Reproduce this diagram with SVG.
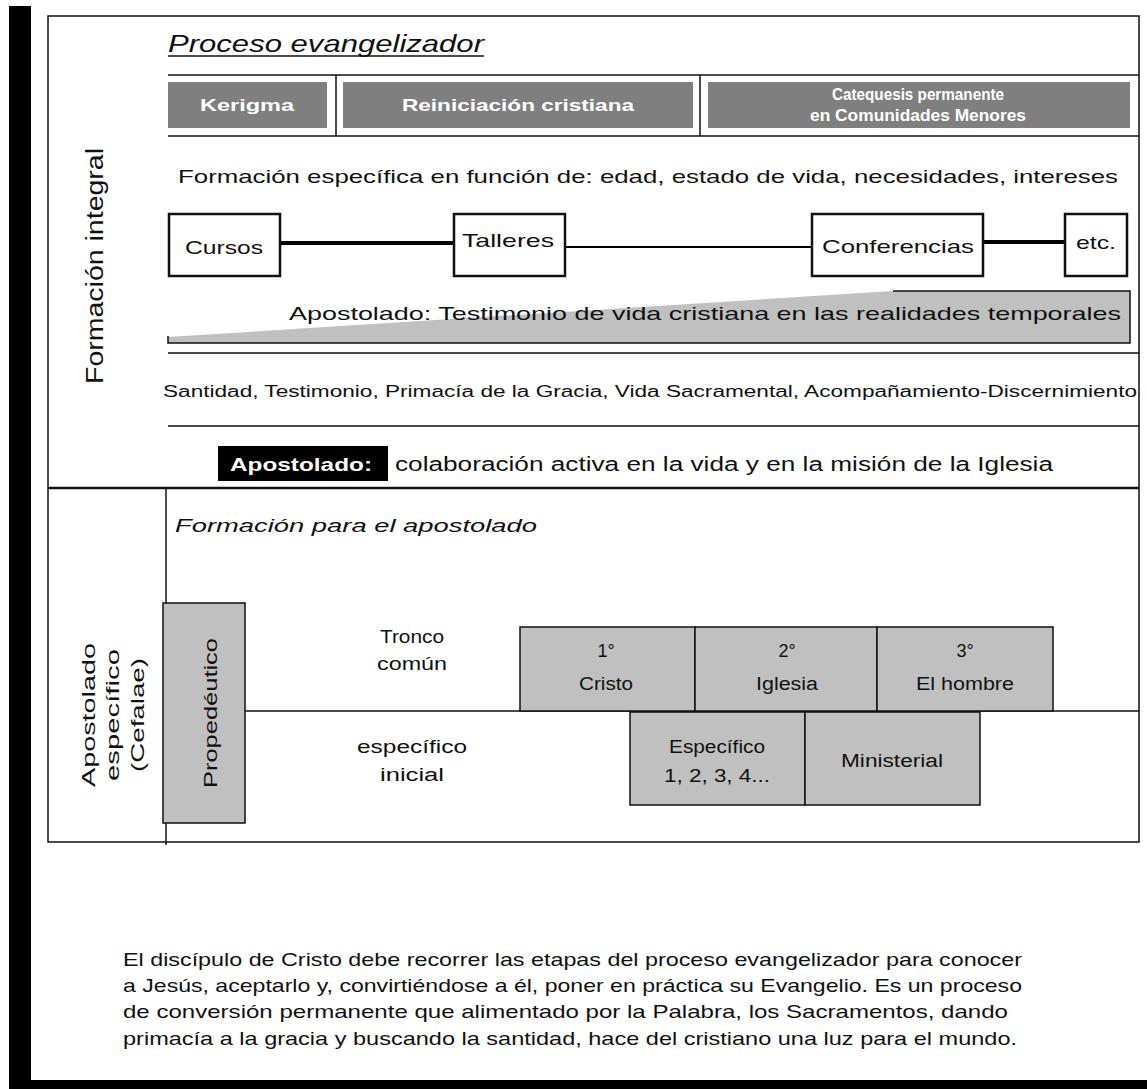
<svg xmlns="http://www.w3.org/2000/svg" width="1147" height="1089" viewBox="0 0 1147 1089">
<style>
text{font-family:"Liberation Sans",Arial,sans-serif;fill:#111}
.ln{stroke:#111;stroke-width:1.5;fill:none}
.hdr{fill:#7f7f7f}
.ht{fill:#fff;font-weight:bold;font-size:17px;text-anchor:middle}
.bx{fill:#fff;stroke:#111;stroke-width:2.5}
.gb{fill:#c0c0c0;stroke:#111;stroke-width:1.5}
.bt{font-size:18px;text-anchor:middle}
.c{text-anchor:middle}
</style>
<rect width="1147" height="1089" fill="#fff"/>
<rect x="9" y="6" width="22" height="1083" fill="#000"/>
<rect x="9" y="1080" width="1138" height="9" fill="#000"/>

<g id="frame">
<rect class="ln" x="48" y="16" width="1091" height="826"/>
<line class="ln" x1="168" y1="75" x2="1139" y2="75"/>
<line class="ln" x1="168" y1="136" x2="1139" y2="136"/>
<line class="ln" x1="336" y1="75" x2="336" y2="136"/>
<line class="ln" x1="700" y1="75" x2="700" y2="136"/>
<line class="ln" x1="168" y1="353" x2="1139" y2="353"/>
<line class="ln" x1="168" y1="426" x2="1139" y2="426"/>
<line x1="48" y1="488" x2="1139" y2="488" stroke="#111" stroke-width="2.5"/>
<line class="ln" x1="166" y1="488" x2="166" y2="845"/>
<line class="ln" x1="245" y1="711" x2="1139" y2="711"/>
</g>

<g id="left-labels">
<text transform="translate(103,266) rotate(-90)" font-size="23" class="c" fill="#222" textLength="236" lengthAdjust="spacingAndGlyphs">Formación integral</text>
<text transform="translate(95,715) rotate(-90)" font-size="18" class="c" textLength="144" lengthAdjust="spacingAndGlyphs">Apostolado</text>
<text transform="translate(119,715) rotate(-90)" font-size="18" class="c" textLength="132" lengthAdjust="spacingAndGlyphs">específico</text>
<text transform="translate(144,715) rotate(-90)" font-size="18" class="c" textLength="114" lengthAdjust="spacingAndGlyphs">(Cefalae)</text>
</g>

<g id="title">
<text x="168" y="52" font-size="24" font-style="italic" textLength="316" lengthAdjust="spacingAndGlyphs">Proceso evangelizador</text>
<line x1="168" y1="56" x2="484" y2="56" stroke="#111" stroke-width="1.5"/>
</g>

<g id="kerigma"><rect class="hdr" x="168" y="82" width="159" height="46"/><text class="ht" x="247" y="111" textLength="94" lengthAdjust="spacingAndGlyphs">Kerigma</text></g>
<g id="reiniciacion"><rect class="hdr" x="343" y="82" width="350" height="46"/><text class="ht" x="518" y="111" textLength="232" lengthAdjust="spacingAndGlyphs">Reiniciación cristiana</text></g>
<g id="catequesis"><rect class="hdr" x="708" y="82" width="422" height="46"/>
<text class="ht" x="918" y="100" font-size="14" textLength="172" lengthAdjust="spacingAndGlyphs">Catequesis permanente</text>
<text class="ht" x="918" y="121" font-size="14" textLength="216" lengthAdjust="spacingAndGlyphs">en Comunidades Menores</text></g>

<g id="especifica"><text x="178" y="183" font-size="19" textLength="940" lengthAdjust="spacingAndGlyphs">Formación específica en función de: edad, estado de vida, necesidades, intereses</text></g>

<g id="connectors">
<line x1="280" y1="243" x2="454" y2="243" stroke="#000" stroke-width="4"/>
<line x1="565" y1="247" x2="812" y2="247" stroke="#000" stroke-width="2"/>
<line x1="983" y1="242" x2="1065" y2="242" stroke="#000" stroke-width="4"/>
</g>

<g id="cursos"><rect class="bx" x="169" y="214" width="111" height="62"/><text x="224" y="254" class="c" font-size="19" textLength="78" lengthAdjust="spacingAndGlyphs">Cursos</text></g>
<g id="talleres"><rect class="bx" x="454" y="214" width="111" height="62"/><text x="508" y="247" class="c" font-size="19" textLength="92" lengthAdjust="spacingAndGlyphs">Talleres</text></g>
<g id="conferencias"><rect class="bx" x="812" y="214" width="171" height="62"/><text x="898" y="253" class="c" font-size="19" textLength="152" lengthAdjust="spacingAndGlyphs">Conferencias</text></g>
<g id="etc"><rect class="bx" x="1065" y="214" width="62" height="62"/><text x="1096" y="249" class="c" font-size="19" textLength="40" lengthAdjust="spacingAndGlyphs">etc.</text></g>

<g id="testimonio">
<polygon points="168,337 893,291 1130,291 1130,343 168,343" fill="#c0c0c0"/>
<polyline points="893,291 1130,291 1130,343 168,343 168,336" fill="none" stroke="#111" stroke-width="1.5"/>
<text x="289" y="320" font-size="19" textLength="832" lengthAdjust="spacingAndGlyphs">Apostolado: Testimonio de vida cristiana en las realidades temporales</text>
</g>

<g id="valores"><text x="163" y="397" font-size="16" textLength="974" lengthAdjust="spacingAndGlyphs">Santidad, Testimonio, Primacía de la Gracia, Vida Sacramental, Acompañamiento-Discernimiento</text></g>

<g id="apostolado">
<rect x="218" y="446" width="170" height="35" fill="#000"/>
<text x="230" y="471" font-size="19" font-weight="bold" style="fill:#fff" textLength="142" lengthAdjust="spacingAndGlyphs">Apostolado:</text>
<text x="395" y="471" font-size="20" textLength="658" lengthAdjust="spacingAndGlyphs">colaboración activa en la vida y en la misión de la Iglesia</text>
</g>

<g id="formacion-apostolado"><text x="175" y="532" font-size="19" font-style="italic" textLength="362" lengthAdjust="spacingAndGlyphs">Formación para el apostolado</text></g>

<g id="propedeutico"><rect class="gb" x="163" y="603" width="82" height="220"/>
<text transform="translate(217,713) rotate(-90)" font-size="19" class="c" textLength="150" lengthAdjust="spacingAndGlyphs">Propedéutico</text></g>

<g id="tronco"><text class="bt" x="412" y="643" textLength="64" lengthAdjust="spacingAndGlyphs">Tronco</text><text class="bt" x="412" y="670" textLength="70" lengthAdjust="spacingAndGlyphs">común</text></g>
<g id="especifico-inicial"><text class="bt" x="412" y="753" textLength="110" lengthAdjust="spacingAndGlyphs">específico</text><text class="bt" x="412" y="781" textLength="64" lengthAdjust="spacingAndGlyphs">inicial</text></g>

<g id="cristo"><rect class="gb" x="520" y="627" width="175" height="84"/><text class="bt" x="606" y="657">1°</text><text class="bt" x="606" y="690" textLength="54" lengthAdjust="spacingAndGlyphs">Cristo</text></g>
<g id="iglesia"><rect class="gb" x="695" y="627" width="182" height="84"/><text class="bt" x="787" y="657">2°</text><text class="bt" x="787" y="690" textLength="62" lengthAdjust="spacingAndGlyphs">Iglesia</text></g>
<g id="hombre"><rect class="gb" x="877" y="627" width="176" height="84"/><text class="bt" x="965" y="657">3°</text><text class="bt" x="965" y="690" textLength="98" lengthAdjust="spacingAndGlyphs">El hombre</text></g>
<g id="especifico"><rect class="gb" x="630" y="712" width="175" height="93"/><text class="bt" x="717" y="753" textLength="96" lengthAdjust="spacingAndGlyphs">Específico</text><text class="bt" x="717" y="782" textLength="106" lengthAdjust="spacingAndGlyphs">1, 2, 3, 4...</text></g>
<g id="ministerial"><rect class="gb" x="805" y="712" width="175" height="93"/><text class="bt" x="892" y="767" textLength="102" lengthAdjust="spacingAndGlyphs">Ministerial</text></g>

<g id="parrafo" font-size="19">
<text x="123" y="966" textLength="899" lengthAdjust="spacingAndGlyphs">El discípulo de Cristo debe recorrer las etapas del proceso evangelizador para conocer</text>
<text x="123" y="992" textLength="899" lengthAdjust="spacingAndGlyphs">a Jesús, aceptarlo y, convirtiéndose a él, poner en práctica su Evangelio. Es un proceso</text>
<text x="123" y="1018" textLength="885" lengthAdjust="spacingAndGlyphs">de conversión permanente que alimentado por la Palabra, los Sacramentos, dando</text>
<text x="123" y="1045" textLength="894" lengthAdjust="spacingAndGlyphs">primacía a la gracia y buscando la santidad, hace del cristiano una luz para el mundo.</text>
</g>
</svg>
